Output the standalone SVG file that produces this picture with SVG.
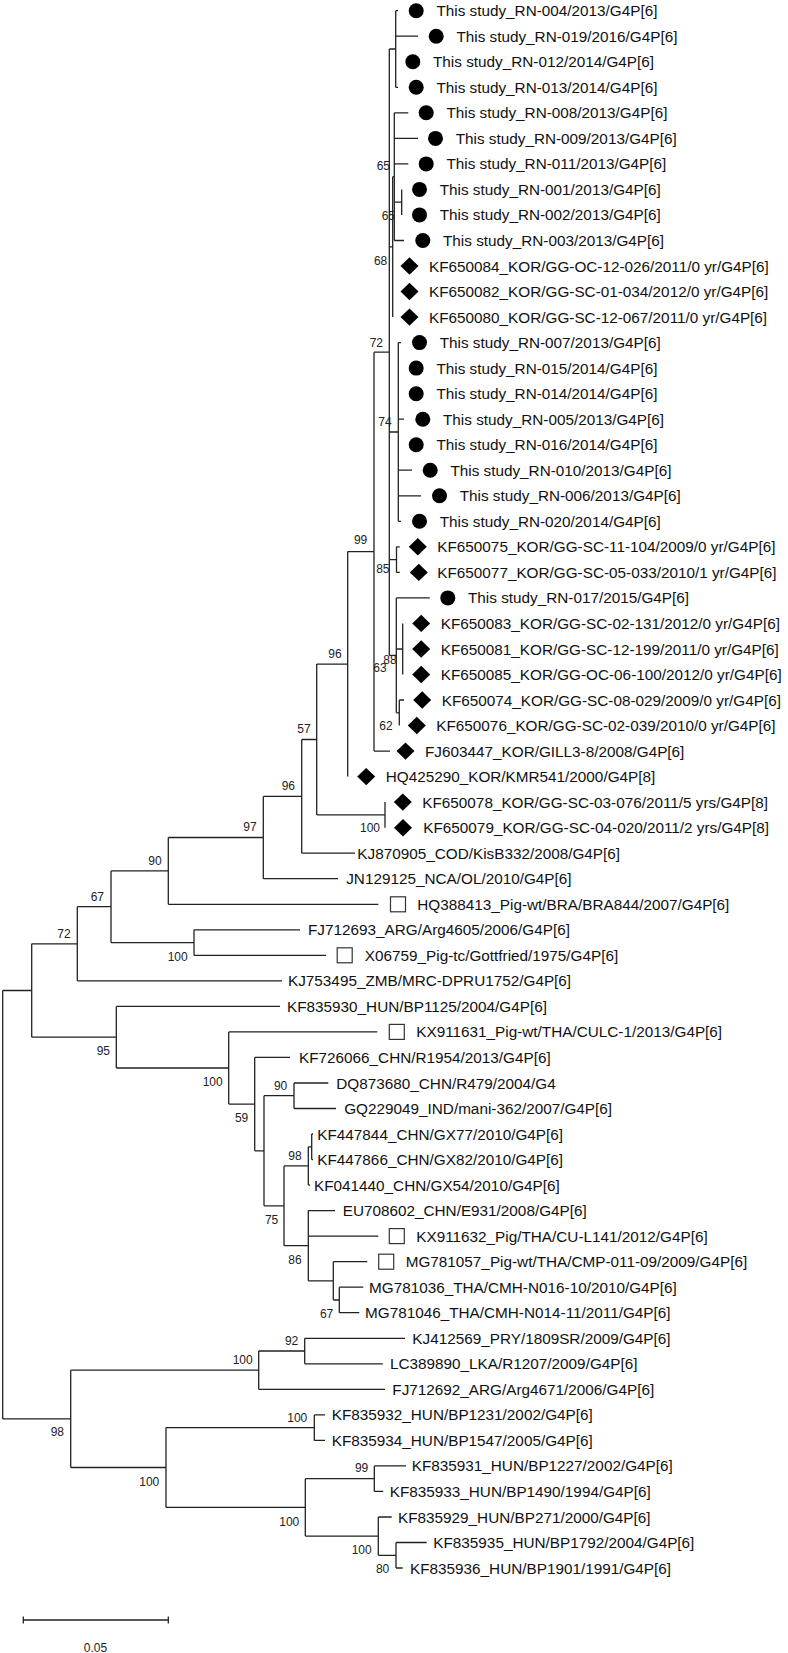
<svg xmlns="http://www.w3.org/2000/svg" xmlns:xlink="http://www.w3.org/1999/xlink" width="788" height="1653" viewBox="0 0 788 1653">
<style>
.ln{fill:none;stroke:#222;stroke-width:1.3}
.t{font-family:"Liberation Sans",Arial,sans-serif;font-size:15.3px;fill:#111}
.b{font-family:"Liberation Sans",Arial,sans-serif;font-size:12px;fill:#222;text-anchor:end}
.s{font-family:"Liberation Sans",Arial,sans-serif;font-size:12px;fill:#222;text-anchor:middle}
.dot{fill:#000}
.dia{fill:#000}
.sq{fill:#fff;stroke:#333;stroke-width:1.2}
</style>
<defs>
<path id="dm" d="M0,-8.7L9,0L0,8.7L-9,0Z"/>
</defs>
<rect width="788" height="1653" fill="#fff"/>
<g id="connectors" class="ln">
<path d="M395.7,10.7V87.3M395.7,10.7H398M395.7,36.2H418M395.7,87.3H398M389.3,49H395.7"/>
<path d="M401.7,189.4V214.9M394.3,202.2H401.7"/>
<path d="M394.3,112.8V240.5M394.3,112.8H408.3M394.3,138.4H418M394.3,163.9H408.3M394.3,240.5H404M392.7,176.7H394.3"/>
<path d="M392.7,176.7V317.1M389.3,246.9H392.7"/>
<path d="M398.3,342.6V521.3M398.3,342.6H401M398.3,419.2H404M398.3,470.2H412M398.3,495.8H421M398.3,521.3H401M389.3,432H398.3"/>
<path d="M396.5,546.8V572.4M396.5,546.8H399.8M396.5,572.4H399.8M389.3,559.6H396.5"/>
<path d="M402.7,623.4V674.5M396.3,649H402.7"/>
<path d="M399.3,700V725.5M399.3,700H404M396.3,712.8H399.3"/>
<path d="M396.3,597.9V712.8M396.3,597.9H429.8M389.3,655.4H396.3"/>
<path d="M389.3,49V655.4M374,352.2H389.3"/>
<path d="M374,352.2V751.1M374,751.1H390M347.7,551.6H374"/>
<path d="M347.7,551.6V776.6M316.7,664.1H347.7"/>
<path d="M385,802.1V827.7M316.7,814.9H385"/>
<path d="M316.7,664.1V814.9M301.7,739.5H316.7"/>
<path d="M301.7,739.5V853.2M301.7,853.2H355M263.3,796.4H301.7"/>
<path d="M263.3,796.4V878.7M263.3,878.7H338M168.3,837.5H263.3"/>
<path d="M168.3,837.5V904.3M168.3,904.3H378.3M111,870.9H168.3"/>
<path d="M194,929.8V955.3M194,929.8H300M194,955.3H326M111,942.6H194"/>
<path d="M111,870.9V942.6M77.3,906.7H111"/>
<path d="M77.3,906.7V980.8M77.3,980.8H282M31.7,943.8H77.3"/>
<path d="M31.7,943.8V1037.2M2.7,990.5H31.7"/>
<path d="M116.3,1006.4V1068M116.3,1006.4H280M31.7,1037.2H116.3"/>
<path d="M228.7,1031.9V1104.1M228.7,1031.9H377.3M116.3,1068H228.7"/>
<path d="M254.7,1057.4V1150.8M254.7,1057.4H290M228.7,1104.1H254.7"/>
<path d="M264,1095.7V1205.8M254.7,1150.8H264"/>
<path d="M294,1083V1108.5M294,1083H328.3M294,1108.5H336M264,1095.7H294"/>
<path d="M284,1165.9V1245.7M264,1205.8H284"/>
<path d="M308.3,1146.8V1185.1M308.3,1185.1H310M284,1165.9H308.3"/>
<path d="M311.7,1134V1159.6M311.7,1134H313M311.7,1159.6H313M308.3,1146.8H311.7"/>
<path d="M308.3,1210.6V1280.8M308.3,1210.6H335M308.3,1236.1H378.3M284,1245.7H308.3"/>
<path d="M333.3,1261.7V1300M333.3,1261.7H367.3M308.3,1280.8H333.3"/>
<path d="M339.3,1287.2V1312.7M339.3,1287.2H363.3M339.3,1312.7H359.3M333.3,1300H339.3"/>
<path d="M2.7,990.5V1418.9"/>
<path d="M70.7,1370.2V1467.5M2.7,1418.9H70.7"/>
<path d="M258.7,1351V1389.3M258.7,1389.3H385M70.7,1370.2H258.7"/>
<path d="M304.7,1338.3V1363.8M304.7,1338.3H405M304.7,1363.8H382.7M258.7,1351H304.7"/>
<path d="M166,1427.6V1507.4M70.7,1467.5H166"/>
<path d="M314.3,1414.9V1440.4M314.3,1414.9H325M314.3,1440.4H325M166,1427.6H314.3"/>
<path d="M305.3,1478.7V1536.1M166,1507.4H305.3"/>
<path d="M374.3,1465.9V1491.4M374.3,1465.9H406M374.3,1491.4H383.3M305.3,1478.7H374.3"/>
<path d="M378.3,1517V1555.3M378.3,1517H391.7M305.3,1536.1H378.3"/>
<path d="M396,1542.5V1568M396,1542.5H426.7M396,1568H402.7M378.3,1555.3H396"/>
</g>
<g id="scale-bar">
<path class="ln" d="M23.3,1620H168.3M23.3,1616.5V1623.5M168.3,1616.5V1623.5"/>
<text class="s" x="95.5" y="1651.5">0.05</text>
</g>
<g id="bootstrap">
<g id="n-B"><text class="b" x="390" y="169.5">65</text></g>
<g id="n-P12"><text class="b" x="395" y="220">65</text></g>
<g id="n-68"><text class="b" x="387.3" y="264.5">68</text></g>
<g id="n-72t"><text class="b" x="383" y="346.5">72</text></g>
<g id="n-C"><text class="b" x="391.7" y="426">74</text></g>
<g id="n-85"><text class="b" x="389.5" y="573">85</text></g>
<g id="n-63"><text class="b" x="386.7" y="672">63</text></g>
<g id="n-88"><text class="b" x="396.7" y="664">88</text></g>
<g id="n-62"><text class="b" x="392.7" y="730">62</text></g>
<g id="n-99"><text class="b" x="367.3" y="544">99</text></g>
<g id="n-96u"><text class="b" x="341.7" y="657.5">96</text></g>
<g id="n-57"><text class="b" x="310.7" y="733.3">57</text></g>
<g id="n-100k"><text class="b" x="380" y="832">100</text></g>
<g id="n-96l"><text class="b" x="295" y="789.5">96</text></g>
<g id="n-97"><text class="b" x="256.7" y="831">97</text></g>
<g id="n-90"><text class="b" x="161.7" y="864.5">90</text></g>
<g id="n-67"><text class="b" x="104" y="900.5">67</text></g>
<g id="n-100f"><text class="b" x="187.7" y="961">100</text></g>
<g id="n-72b"><text class="b" x="70.7" y="937.5">72</text></g>
<g id="n-95"><text class="b" x="110" y="1054.5">95</text></g>
<g id="n-100x"><text class="b" x="222.7" y="1085.5">100</text></g>
<g id="n-59"><text class="b" x="248.3" y="1122">59</text></g>
<g id="n-90d"><text class="b" x="287.3" y="1089.5">90</text></g>
<g id="n-98"><text class="b" x="301.7" y="1159.5">98</text></g>
<g id="n-75"><text class="b" x="278.3" y="1223.5">75</text></g>
<g id="n-86"><text class="b" x="301.7" y="1263.5">86</text></g>
<g id="n-67m"><text class="b" x="333.3" y="1318.3">67</text></g>
<g id="n-92"><text class="b" x="298.3" y="1345">92</text></g>
<g id="n-100a"><text class="b" x="252.7" y="1364">100</text></g>
<g id="n-98r"><text class="b" x="64" y="1436">98</text></g>
<g id="n-100b"><text class="b" x="159.3" y="1486">100</text></g>
<g id="n-100c"><text class="b" x="307.3" y="1421.7">100</text></g>
<g id="n-100d"><text class="b" x="299.3" y="1526">100</text></g>
<g id="n-99h"><text class="b" x="368.3" y="1471.7">99</text></g>
<g id="n-100e"><text class="b" x="371.7" y="1554">100</text></g>
<g id="n-80"><text class="b" x="389.3" y="1573.3">80</text></g>
</g>
<g id="leaves">
<g id="leaf-RN-004"><circle class="dot" cx="416.2" cy="10.7" r="7.5"/><text class="t" x="436.4" y="16.2">This study_RN-004/2013/G4P[6]</text></g>
<g id="leaf-RN-019"><circle class="dot" cx="436.2" cy="36.2" r="7.5"/><text class="t" x="456.4" y="41.7">This study_RN-019/2016/G4P[6]</text></g>
<g id="leaf-RN-012"><circle class="dot" cx="412.8" cy="61.8" r="7.5"/><text class="t" x="433" y="67.3">This study_RN-012/2014/G4P[6]</text></g>
<g id="leaf-RN-013"><circle class="dot" cx="416.2" cy="87.3" r="7.5"/><text class="t" x="436.4" y="92.8">This study_RN-013/2014/G4P[6]</text></g>
<g id="leaf-RN-008"><circle class="dot" cx="426.2" cy="112.8" r="7.5"/><text class="t" x="446.4" y="118.3">This study_RN-008/2013/G4P[6]</text></g>
<g id="leaf-RN-009"><circle class="dot" cx="435.5" cy="138.4" r="7.5"/><text class="t" x="455.7" y="143.9">This study_RN-009/2013/G4P[6]</text></g>
<g id="leaf-RN-011"><circle class="dot" cx="426.2" cy="163.9" r="7.5"/><text class="t" x="446.4" y="169.4">This study_RN-011/2013/G4P[6]</text></g>
<g id="leaf-RN-001"><circle class="dot" cx="419.5" cy="189.4" r="7.5"/><text class="t" x="439.7" y="194.9">This study_RN-001/2013/G4P[6]</text></g>
<g id="leaf-RN-002"><circle class="dot" cx="419.5" cy="214.9" r="7.5"/><text class="t" x="439.7" y="220.4">This study_RN-002/2013/G4P[6]</text></g>
<g id="leaf-RN-003"><circle class="dot" cx="422.8" cy="240.5" r="7.5"/><text class="t" x="443" y="246">This study_RN-003/2013/G4P[6]</text></g>
<g id="leaf-KF650084"><use href="#dm" class="dia" x="409.5" y="266"/><text class="t" x="429" y="271.5">KF650084_KOR/GG-OC-12-026/2011/0 yr/G4P[6]</text></g>
<g id="leaf-KF650082"><use href="#dm" class="dia" x="409.5" y="291.5"/><text class="t" x="429" y="297">KF650082_KOR/GG-SC-01-034/2012/0 yr/G4P[6]</text></g>
<g id="leaf-KF650080"><use href="#dm" class="dia" x="409.5" y="317.1"/><text class="t" x="429" y="322.6">KF650080_KOR/GG-SC-12-067/2011/0 yr/G4P[6]</text></g>
<g id="leaf-RN-007"><circle class="dot" cx="419.5" cy="342.6" r="7.5"/><text class="t" x="439.7" y="348.1">This study_RN-007/2013/G4P[6]</text></g>
<g id="leaf-RN-015"><circle class="dot" cx="416.2" cy="368.1" r="7.5"/><text class="t" x="436.4" y="373.6">This study_RN-015/2014/G4P[6]</text></g>
<g id="leaf-RN-014"><circle class="dot" cx="416.2" cy="393.7" r="7.5"/><text class="t" x="436.4" y="399.2">This study_RN-014/2014/G4P[6]</text></g>
<g id="leaf-RN-005"><circle class="dot" cx="422.8" cy="419.2" r="7.5"/><text class="t" x="443" y="424.7">This study_RN-005/2013/G4P[6]</text></g>
<g id="leaf-RN-016"><circle class="dot" cx="416.2" cy="444.7" r="7.5"/><text class="t" x="436.4" y="450.2">This study_RN-016/2014/G4P[6]</text></g>
<g id="leaf-RN-010"><circle class="dot" cx="430.2" cy="470.2" r="7.5"/><text class="t" x="450.4" y="475.7">This study_RN-010/2013/G4P[6]</text></g>
<g id="leaf-RN-006"><circle class="dot" cx="439.5" cy="495.8" r="7.5"/><text class="t" x="459.7" y="501.3">This study_RN-006/2013/G4P[6]</text></g>
<g id="leaf-RN-020"><circle class="dot" cx="419.5" cy="521.3" r="7.5"/><text class="t" x="439.7" y="526.8">This study_RN-020/2014/G4P[6]</text></g>
<g id="leaf-KF650075"><use href="#dm" class="dia" x="417.8" y="546.8"/><text class="t" x="437.3" y="552.3">KF650075_KOR/GG-SC-11-104/2009/0 yr/G4P[6]</text></g>
<g id="leaf-KF650077"><use href="#dm" class="dia" x="418.8" y="572.4"/><text class="t" x="437.3" y="577.9">KF650077_KOR/GG-SC-05-033/2010/1 yr/G4P[6]</text></g>
<g id="leaf-RN-017"><circle class="dot" cx="447.8" cy="597.9" r="7.5"/><text class="t" x="468" y="603.4">This study_RN-017/2015/G4P[6]</text></g>
<g id="leaf-KF650083"><use href="#dm" class="dia" x="421.2" y="623.4"/><text class="t" x="440.7" y="628.9">KF650083_KOR/GG-SC-02-131/2012/0 yr/G4P[6]</text></g>
<g id="leaf-KF650081"><use href="#dm" class="dia" x="421.2" y="649"/><text class="t" x="440.7" y="654.5">KF650081_KOR/GG-SC-12-199/2011/0 yr/G4P[6]</text></g>
<g id="leaf-KF650085"><use href="#dm" class="dia" x="421.2" y="674.5"/><text class="t" x="440.7" y="680">KF650085_KOR/GG-OC-06-100/2012/0 yr/G4P[6]</text></g>
<g id="leaf-KF650074"><use href="#dm" class="dia" x="422.2" y="700"/><text class="t" x="441.7" y="705.5">KF650074_KOR/GG-SC-08-029/2009/0 yr/G4P[6]</text></g>
<g id="leaf-KF650076"><use href="#dm" class="dia" x="416.8" y="725.5"/><text class="t" x="436.3" y="731">KF650076_KOR/GG-SC-02-039/2010/0 yr/G4P[6]</text></g>
<g id="leaf-FJ603447"><use href="#dm" class="dia" x="405.5" y="751.1"/><text class="t" x="425" y="756.6">FJ603447_KOR/GILL3-8/2008/G4P[6]</text></g>
<g id="leaf-HQ425290"><use href="#dm" class="dia" x="366.2" y="776.6"/><text class="t" x="385.7" y="782.1">HQ425290_KOR/KMR541/2000/G4P[8]</text></g>
<g id="leaf-KF650078"><use href="#dm" class="dia" x="402.8" y="802.1"/><text class="t" x="422.3" y="807.6">KF650078_KOR/GG-SC-03-076/2011/5 yrs/G4P[8]</text></g>
<g id="leaf-KF650079"><use href="#dm" class="dia" x="403" y="827.7"/><text class="t" x="423.3" y="833.2">KF650079_KOR/GG-SC-04-020/2011/2 yrs/G4P[8]</text></g>
<g id="leaf-KJ870905"><text class="t" x="357.3" y="858.7">KJ870905_COD/KisB332/2008/G4P[6]</text></g>
<g id="leaf-JN129125"><text class="t" x="346.2" y="884.2">JN129125_NCA/OL/2010/G4P[6]</text></g>
<g id="leaf-HQ388413"><rect class="sq" x="390.5" y="896.8" width="15" height="15"/><text class="t" x="417.3" y="909.8">HQ388413_Pig-wt/BRA/BRA844/2007/G4P[6]</text></g>
<g id="leaf-FJ712693"><text class="t" x="308" y="935.3">FJ712693_ARG/Arg4605/2006/G4P[6]</text></g>
<g id="leaf-X06759"><rect class="sq" x="337.2" y="947.8" width="15" height="15"/><text class="t" x="364.8" y="960.8">X06759_Pig-tc/Gottfried/1975/G4P[6]</text></g>
<g id="leaf-KJ753495"><text class="t" x="288" y="986.3">KJ753495_ZMB/MRC-DPRU1752/G4P[6]</text></g>
<g id="leaf-KF835930"><text class="t" x="287" y="1011.9">KF835930_HUN/BP1125/2004/G4P[6]</text></g>
<g id="leaf-KX911631"><rect class="sq" x="389.3" y="1024.4" width="15" height="15"/><text class="t" x="416.3" y="1037.4">KX911631_Pig-wt/THA/CULC-1/2013/G4P[6]</text></g>
<g id="leaf-KF726066"><text class="t" x="299" y="1062.9">KF726066_CHN/R1954/2013/G4P[6]</text></g>
<g id="leaf-DQ873680"><text class="t" x="336.3" y="1088.5">DQ873680_CHN/R479/2004/G4</text></g>
<g id="leaf-GQ229049"><text class="t" x="344.2" y="1114">GQ229049_IND/mani-362/2007/G4P[6]</text></g>
<g id="leaf-KF447844"><text class="t" x="317.3" y="1139.5">KF447844_CHN/GX77/2010/G4P[6]</text></g>
<g id="leaf-KF447866"><text class="t" x="317.3" y="1165.1">KF447866_CHN/GX82/2010/G4P[6]</text></g>
<g id="leaf-KF041440"><text class="t" x="314" y="1190.6">KF041440_CHN/GX54/2010/G4P[6]</text></g>
<g id="leaf-EU708602"><text class="t" x="342.7" y="1216.1">EU708602_CHN/E931/2008/G4P[6]</text></g>
<g id="leaf-KX911632"><rect class="sq" x="389.3" y="1228.6" width="15" height="15"/><text class="t" x="416.3" y="1241.6">KX911632_Pig/THA/CU-L141/2012/G4P[6]</text></g>
<g id="leaf-MG781057"><rect class="sq" x="378.7" y="1254.2" width="15" height="15"/><text class="t" x="405.7" y="1267.2">MG781057_Pig-wt/THA/CMP-011-09/2009/G4P[6]</text></g>
<g id="leaf-MG781036"><text class="t" x="369" y="1292.7">MG781036_THA/CMH-N016-10/2010/G4P[6]</text></g>
<g id="leaf-MG781046"><text class="t" x="365" y="1318.2">MG781046_THA/CMH-N014-11/2011/G4P[6]</text></g>
<g id="leaf-KJ412569"><text class="t" x="412.3" y="1343.8">KJ412569_PRY/1809SR/2009/G4P[6]</text></g>
<g id="leaf-LC389890"><text class="t" x="390" y="1369.3">LC389890_LKA/R1207/2009/G4P[6]</text></g>
<g id="leaf-FJ712692"><text class="t" x="392.3" y="1394.8">FJ712692_ARG/Arg4671/2006/G4P[6]</text></g>
<g id="leaf-KF835932"><text class="t" x="331.7" y="1420.4">KF835932_HUN/BP1231/2002/G4P[6]</text></g>
<g id="leaf-KF835934"><text class="t" x="331.7" y="1445.9">KF835934_HUN/BP1547/2005/G4P[6]</text></g>
<g id="leaf-KF835931"><text class="t" x="411.7" y="1471.4">KF835931_HUN/BP1227/2002/G4P[6]</text></g>
<g id="leaf-KF835933"><text class="t" x="389.7" y="1496.9">KF835933_HUN/BP1490/1994/G4P[6]</text></g>
<g id="leaf-KF835929"><text class="t" x="398" y="1522.5">KF835929_HUN/BP271/2000/G4P[6]</text></g>
<g id="leaf-KF835935"><text class="t" x="433.3" y="1548">KF835935_HUN/BP1792/2004/G4P[6]</text></g>
<g id="leaf-KF835936"><text class="t" x="410" y="1573.5">KF835936_HUN/BP1901/1991/G4P[6]</text></g>
</g>
</svg>
